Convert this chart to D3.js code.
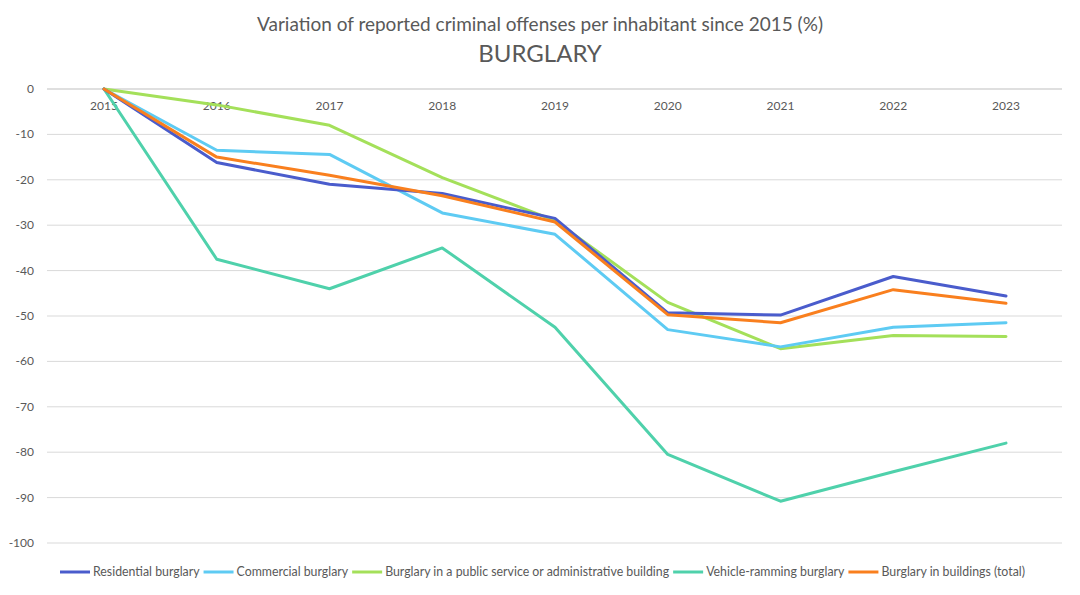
<!DOCTYPE html>
<html><head><meta charset="utf-8">
<script src="https://cdn.jsdelivr.net/npm/d3@7"></script>
<style>body{margin:0;background:#fff;font-family:Lato,"Open Sans",sans-serif;}</style>
</head><body><svg id="c" width="1080" height="595"></svg>
<script>
const years = ["2015","2016","2017","2018","2019","2020","2021","2022","2023"];
const yTicks = [0,-10,-20,-30,-40,-50,-60,-70,-80,-90,-100];
const seriesNames = ["Residential burglary","Commercial burglary","Burglary in a public service or administrative building","Vehicle-ramming burglary","Burglary in buildings (total)"];
const seriesColors = ["#4a5ccc","#5ecbf3","#a4e05a","#4fd1ab","#f97f1e"];
const residential = [0,-16.2,-21,-23,-28.5,-49.3,-49.8,-41.3,-45.6];
const commercial = [0,-13.5,-14.4,-27.3,-32,-53,-56.8,-52.5,-51.5];
const publicBldg = [0,-3.5,-8,-19.5,-29,-47,-57.2,-54.3,-54.5];
const vehicle = [0,-37.5,-44,-35,-52.5,-80.5,-90.8,-84.3,-78];
const total = [0,-15,-19,-23.5,-29.3,-49.7,-51.5,-44.2,-47.2];
const data = [residential,commercial,publicBldg,vehicle,total];
const drawOrder = [3,2,1,0,4];

const svg = d3.select("#c").attr("font-family","Lato, 'Open Sans', sans-serif");
const x = d3.scalePoint().domain(years).range([104,1006]);
const y = d3.scaleLinear().domain([-100,0]).range([543,89]);
const gx0=47, gx1=1062;

svg.append("text").attr("x",540).attr("y",31).attr("text-anchor","middle").attr("font-size",19).attr("fill","#595959").text("Variation of reported criminal offenses per inhabitant since 2015 (%)");
svg.append("text").attr("x",540).attr("y",62).attr("text-anchor","middle").attr("font-size",24).attr("fill","#595959").text("BURGLARY");

svg.selectAll("line.g").data(yTicks).join("line").attr("x1",gx0).attr("x2",gx1)
 .attr("y1",d=>y(d)).attr("y2",d=>y(d)).attr("stroke",d=>d===0?"#bfbfbf":"#d9d9d9").attr("stroke-width",1);
svg.selectAll("text.yl").data(yTicks).join("text").attr("x",34).attr("y",d=>y(d)+4).attr("text-anchor","end")
 .attr("font-size",12).attr("fill","#595959").text(d=>d);
svg.selectAll("text.xl").data(years).join("text").attr("x",d=>x(d)).attr("y",110).attr("text-anchor","middle")
 .attr("font-size",12).attr("fill","#595959").text(d=>d);

const line = d3.line().x((d,i)=>x(years[i])).y(d=>y(d));
drawOrder.forEach(k=>{
 svg.append("path").attr("d",line(data[k])).attr("fill","none").attr("stroke",seriesColors[k]).attr("stroke-width",3).attr("stroke-linejoin","round").attr("stroke-linecap","round");
});

// legend fit into 60..1025
const lg = svg.append("g");
const items = seriesNames.map((n,i)=>{
 const g=lg.append("g");
 const l=g.append("line").attr("y1",572).attr("y2",572).attr("stroke",seriesColors[i]).attr("stroke-width",3);
 const t=g.append("text").attr("y",576).attr("font-size",12.5).attr("fill","#595959").text(n);
 return {l,t,w:t.node().getComputedTextLength()};
});
const sumW = d3.sum(items,d=>d.w);
const avail = 1025-60 - items.length*33;
const gap = Math.max(4,(avail-sumW)/(items.length-1));
const scale = Math.min(1,(avail-4*(items.length-1))/sumW);
let lx=60;
items.forEach(it=>{
 it.l.attr("x1",lx).attr("x2",lx+30);
 it.t.attr("x",lx+33);
 const w = it.w*scale;
 if(scale<1) it.t.attr("textLength",w).attr("lengthAdjust","spacingAndGlyphs");
 lx += 33 + w + gap;
});
</script></body></html>
